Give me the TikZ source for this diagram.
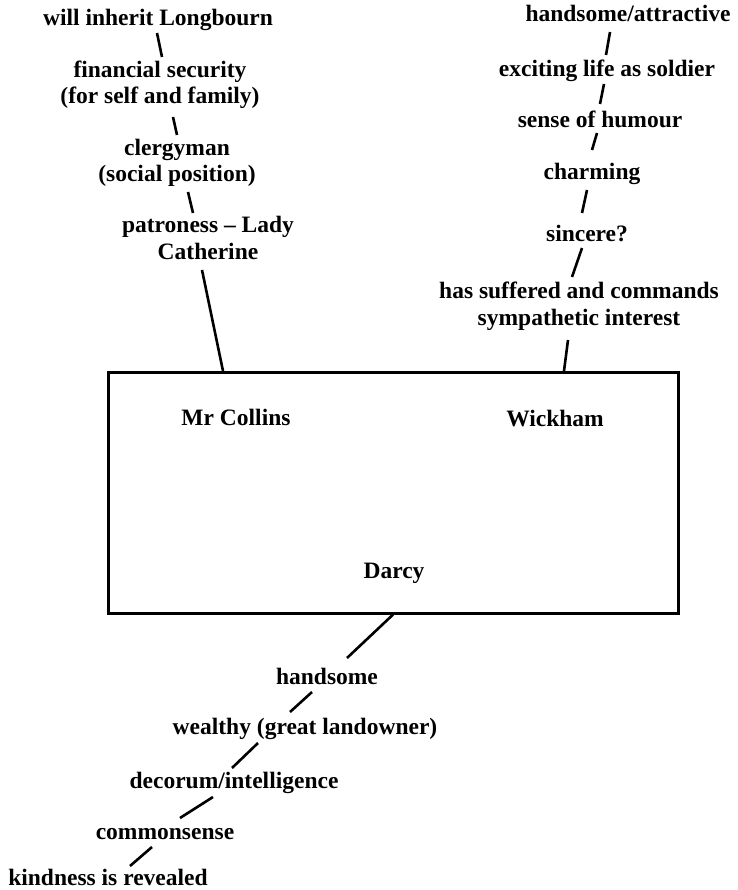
\documentclass[tikz,border=0pt]{standalone}
\usepackage{fontspec}
\setmainfont{Liberation Serif}
\begin{document}
\begin{tikzpicture}[x=1pt,y=-1pt,
  lbl/.style={font=\fontsize{23.5}{26.5}\selectfont\bfseries, align=center, inner sep=0pt, anchor=base},
  link/.style={line width=2.6pt}]
\useasboundingbox (0,0) rectangle (737,890);
% central box
\node[draw, line width=2.6pt, minimum width=570pt, minimum height=241pt, inner sep=0pt, anchor=north west] (box) at (107,371) {};
\node[lbl] (collins) at (236,425) {Mr Collins};
\node[lbl] (wickham) at (555,426) {Wickham};
\node[lbl] (darcy) at (394,578) {Darcy};
% Mr Collins chain (multi-line nodes: base = last line)
\node[lbl] (L1) at (158,26) {will inherit Longbourn};
\node[lbl] (L2) at (160,104) {financial security\\(for self and family)};
\node[lbl] (L3) at (177,182) {clergyman\\(social position)};
\node[lbl] (L4) at (208,259) {patroness – Lady\\Catherine};
\draw[link] (L1.base) ++(-1,7) -- ++(5,24);
\draw[link] (L2.base) ++(13,13) -- ++(4,18);
\draw[link] (L3.base) ++(11,10) -- ++(5,21);
\draw[link] ([shift={(-6,11)}]L4.base) -- ([xshift=116pt]box.north west);
% Wickham chain
\node[lbl] (R1) at (628,22) {handsome/attractive};
\node[lbl] (R2) at (607,77) {exciting life as soldier};
\node[lbl] (R3) at (600,128) {sense of humour};
\node[lbl] (R4) at (592,180) {charming};
\node[lbl] (R5) at (587,242) {sincere?};
\node[lbl] (R6) at (579,325) {has suffered and commands\\sympathetic interest};
\draw[link] (R1.base) ++(-18,10) -- ++(-4,23);
\draw[link] (R2.base) ++(-3,7) -- ++(-4,20);
\draw[link] (R3.base) ++(-3,5) -- ++(-5,17);
\draw[link] (R4.base) ++(-5,10) -- ++(-5,23);
\draw[link] (R5.base) ++(-5,6) -- ++(-10,29);
\draw[link] ([shift={(-11,15)}]R6.base) -- ([xshift=457pt]box.north west);
% Darcy chain
\node[lbl] (B1) at (327,684) {handsome};
\node[lbl] (B2) at (305,734) {wealthy (great landowner)};
\node[lbl] (B3) at (234,788) {decorum/intelligence};
\node[lbl] (B4) at (165,839) {commonsense};
\node[lbl] (B5) at (108,885) {kindness is revealed};
\draw[link] ([xshift=286pt]box.south west) -- ([shift={(20,-26)}]B1.base);
\draw[link] (B1.base) ++(-15,8) -- ++(-22,20);
\draw[link] (B2.base) ++(-47,9) -- ++(-26,25);
\draw[link] (B3.base) ++(-21,9) -- ++(-33,21);
\draw[link] (B4.base) ++(-13,8) -- ++(-22,19);
\end{tikzpicture}
\end{document}
